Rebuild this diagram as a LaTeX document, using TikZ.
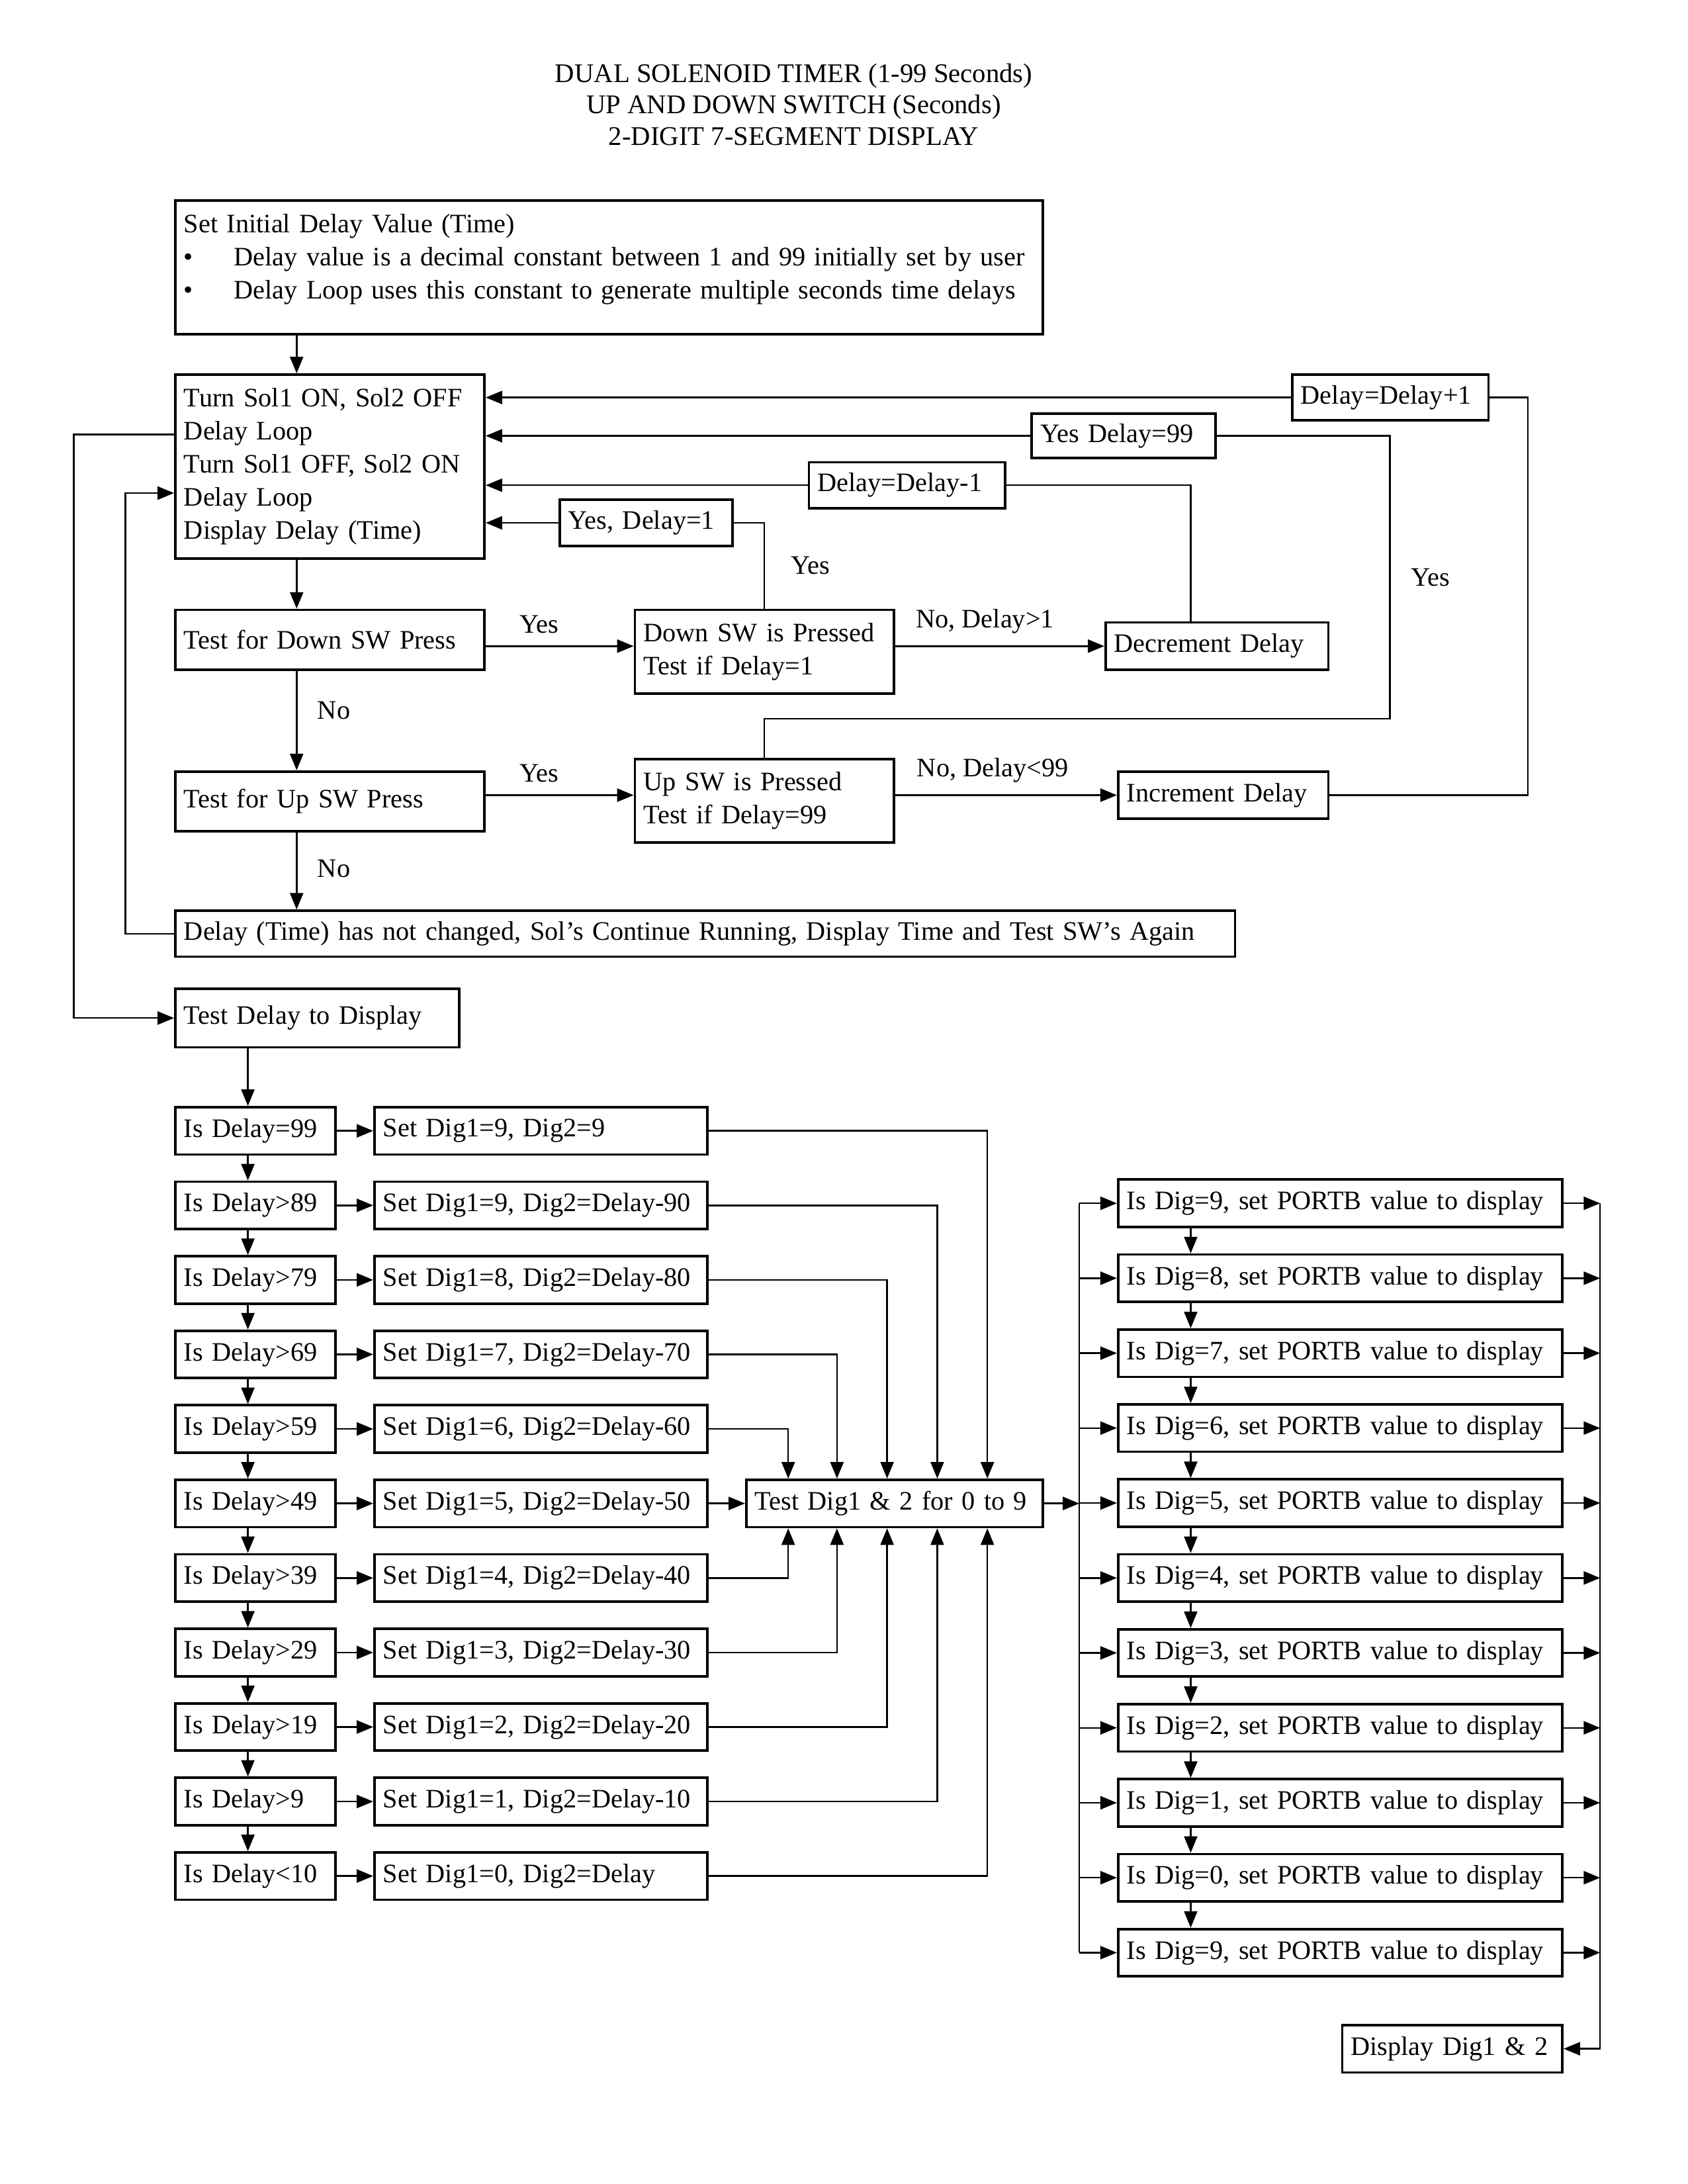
\documentclass[tikz,border=0pt]{standalone}
\usepackage{fontspec}
\setmainfont{Liberation Serif}
\usetikzlibrary{arrows.meta}
\begin{document}
\begin{tikzpicture}[x=0.017814cm,y=-0.017814cm,
    every node/.style={font=\fontsize{9.7}{12}\selectfont},
    blk/.style 2 args={draw,line width=0.9pt,anchor=north west,align=left,
      inner xsep=0.11cm,inner ysep=0pt,
      text width=#1*0.017814cm-0.22cm,minimum height=#2*0.017814cm,
      execute at begin node={\hyphenpenalty=10000\exhyphenpenalty=10000}},
    >={Triangle[length=6pt,width=4.8pt]},
    line width=0.6pt]
  \useasboundingbox (0,0) rectangle (1212,1568);
  % title
  \node[align=center,font=\fontsize{9.8}{11.4}\selectfont] (title) at (570,75)
    {DUAL SOLENOID TIMER (1-99 Seconds)\\UP AND DOWN SWITCH (Seconds)\\2-DIGIT 7-SEGMENT DISPLAY};
  % switch test part
  \node[blk={623}{96}] (init) at (125,143)
    {Set Initial Delay Value (Time)\\
     \makebox[0.64cm][l]{\textbullet}Delay value is a decimal constant between 1 and 99 initially set by user\\
     \makebox[0.64cm][l]{\textbullet}Delay Loop uses this constant to generate multiple seconds time delays\\[-4pt]
     \mbox{}};
  \node[blk={222}{132}] (main) at (125,268)
    {Turn Sol1 ON, Sol2 OFF\\Delay Loop\\Turn Sol1 OFF, Sol2 ON\\Delay Loop\\Display Delay (Time)};
  \node[blk={141}{33}] (dpone) at (927,268) {Delay=Delay+1};
  \node[blk={132}{32}] (yes99) at (740,296) {Yes Delay=99};
  \node[blk={141}{33}] (dmone) at (580,331) {Delay=Delay-1};
  \node[blk={124}{33}] (yes1) at (401,358) {Yes, Delay=1};
  \node[blk={222}{43}] (tdown) at (125,437) {Test for Down SW Press};
  \node[blk={186}{60}] (downsw) at (455,437) {Down SW is Pressed\\Test if Delay=1};
  \node[blk={160}{34}] (decr) at (793,446) {Decrement Delay};
  \node[blk={222}{43}] (tup) at (125,553) {Test for Up SW Press};
  \node[blk={186}{60}] (upsw) at (455,544) {Up SW is Pressed\\Test if Delay=99};
  \node[blk={151}{34}] (incr) at (802,553) {Increment Delay};
  \node[blk={761}{33}] (nochg) at (125,653)
    {Delay (Time) has not changed, Sol’s Continue Running, Display Time and Test SW’s Again};
  \node[blk={204}{42}] (tdisp) at (125,709) {Test Delay to Display};
  \coordinate (spine) at (213,0);
  \coordinate (lbus) at (90,0);
  \coordinate (fbus) at (53,0);
  \coordinate (mainin) at (125,354);
  \coordinate (mainout) at (125,312);
  \coordinate (rbus) at (1097,0);
  \coordinate (upturn) at (998,516);
  \coordinate (dcol) at (855,0);
  \draw[->] (init.south -| spine) -- (main.north -| spine);
  \draw[->] (main.south -| spine) -- (tdown.north -| spine);
  \draw[->] (tdown.south -| spine) -- node[pos=0.4,right=4pt] {No} (tup.north -| spine);
  \draw[->] (tup.south -| spine) -- node[pos=0.47,right=4pt] {No} (nochg.north -| spine);
  \draw[->] (tdown.east |- decr) -- node[pos=0.36,above=1pt] {Yes} (downsw.west |- decr);
  \draw[->] (downsw.east |- decr) -- node[pos=0.43,above=1pt] {No, Delay>1} (decr.west);
  \draw[->] (tup.east |- incr) -- node[pos=0.36,above=1pt] {Yes} (upsw.west |- incr);
  \draw[->] (upsw.east |- incr) -- node[pos=0.44,above=1pt] {No, Delay<99} (incr.west);
  \draw (downsw.north) |- node[pos=0.25,right=6pt] {Yes} (yes1.east);
  \draw (decr.north -| dcol) |- (dmone.east);
  \draw (upsw.north) |- (upturn) |- node[pos=0.25,right=4pt] {Yes} (yes99.east);
  \draw (incr.east) -- (incr.east -| rbus) |- (dpone.east);
  \draw[->] (dpone.west) -- (dpone.west -| main.east);
  \draw[->] (yes99.west) -- (yes99.west -| main.east);
  \draw[->] (dmone.west) -- (dmone.west -| main.east);
  \draw[->] (yes1.west) -- (yes1.west -| main.east);
  \draw[->] (nochg.west) -- (nochg.west -| lbus) |- (mainin);
  \draw[->] (mainout) -- (mainout -| fbus) |- (tdisp.west);
  % digit split part
  \node[blk={115}{34}] (r0) at (125,794) {Is Delay=99};
  \node[blk={115}{34}] (r1) at (125,847.5) {Is Delay>89};
  \node[blk={115}{34}] (r2) at (125,901) {Is Delay>79};
  \node[blk={115}{34}] (r3) at (125,954.5) {Is Delay>69};
  \node[blk={115}{34}] (r4) at (125,1008) {Is Delay>59};
  \node[blk={115}{34}] (r5) at (125,1061.5) {Is Delay>49};
  \node[blk={115}{34}] (r6) at (125,1115) {Is Delay>39};
  \node[blk={115}{34}] (r7) at (125,1168.5) {Is Delay>29};
  \node[blk={115}{34}] (r8) at (125,1222) {Is Delay>19};
  \node[blk={115}{34}] (r9) at (125,1275.5) {Is Delay>9};
  \node[blk={115}{34}] (r10) at (125,1329) {Is Delay<10};
  \node[blk={239}{34}] (s0) at (268,794) {Set Dig1=9, Dig2=9};
  \node[blk={239}{34}] (s1) at (268,847.5) {Set Dig1=9, Dig2=Delay-90};
  \node[blk={239}{34}] (s2) at (268,901) {Set Dig1=8, Dig2=Delay-80};
  \node[blk={239}{34}] (s3) at (268,954.5) {Set Dig1=7, Dig2=Delay-70};
  \node[blk={239}{34}] (s4) at (268,1008) {Set Dig1=6, Dig2=Delay-60};
  \node[blk={239}{34}] (s5) at (268,1061.5) {Set Dig1=5, Dig2=Delay-50};
  \node[blk={239}{34}] (s6) at (268,1115) {Set Dig1=4, Dig2=Delay-40};
  \node[blk={239}{34}] (s7) at (268,1168.5) {Set Dig1=3, Dig2=Delay-30};
  \node[blk={239}{34}] (s8) at (268,1222) {Set Dig1=2, Dig2=Delay-20};
  \node[blk={239}{34}] (s9) at (268,1275.5) {Set Dig1=1, Dig2=Delay-10};
  \node[blk={239}{34}] (s10) at (268,1329) {Set Dig1=0, Dig2=Delay};
  \node[blk={213}{34}] (tdig) at (535,1061.5) {Test Dig1 \& 2 for 0 to 9};
  \coordinate (dspine) at (178,0);
  \coordinate (k1) at (566,0);
  \coordinate (k2) at (601,0);
  \coordinate (k3) at (637,0);
  \coordinate (k4) at (673,0);
  \coordinate (k5) at (709,0);
  \draw[->] (tdisp.south -| dspine) -- (r0.north -| dspine);
  \draw[->] (r0.south -| dspine) -- (r1.north -| dspine);
  \draw[->] (r1.south -| dspine) -- (r2.north -| dspine);
  \draw[->] (r2.south -| dspine) -- (r3.north -| dspine);
  \draw[->] (r3.south -| dspine) -- (r4.north -| dspine);
  \draw[->] (r4.south -| dspine) -- (r5.north -| dspine);
  \draw[->] (r5.south -| dspine) -- (r6.north -| dspine);
  \draw[->] (r6.south -| dspine) -- (r7.north -| dspine);
  \draw[->] (r7.south -| dspine) -- (r8.north -| dspine);
  \draw[->] (r8.south -| dspine) -- (r9.north -| dspine);
  \draw[->] (r9.south -| dspine) -- (r10.north -| dspine);
  \draw[->] (r0.east) -- (s0.west);
  \draw[->] (r1.east) -- (s1.west);
  \draw[->] (r2.east) -- (s2.west);
  \draw[->] (r3.east) -- (s3.west);
  \draw[->] (r4.east) -- (s4.west);
  \draw[->] (r5.east) -- (s5.west);
  \draw[->] (r6.east) -- (s6.west);
  \draw[->] (r7.east) -- (s7.west);
  \draw[->] (r8.east) -- (s8.west);
  \draw[->] (r9.east) -- (s9.west);
  \draw[->] (r10.east) -- (s10.west);
  \draw[->] (s0.east) -| (k5 |- tdig.north);
  \draw[->] (s1.east) -| (k4 |- tdig.north);
  \draw[->] (s2.east) -| (k3 |- tdig.north);
  \draw[->] (s3.east) -| (k2 |- tdig.north);
  \draw[->] (s4.east) -| (k1 |- tdig.north);
  \draw[->] (s5.east) -- (tdig.west);
  \draw[->] (s6.east) -| (k1 |- tdig.south);
  \draw[->] (s7.east) -| (k2 |- tdig.south);
  \draw[->] (s8.east) -| (k3 |- tdig.south);
  \draw[->] (s9.east) -| (k4 |- tdig.south);
  \draw[->] (s10.east) -| (k5 |- tdig.south);
  % portb part
  \node[blk={319}{34}] (d0) at (802,846) {Is Dig=9, set PORTB value to display};
  \node[blk={319}{34}] (d1) at (802,899.8) {Is Dig=8, set PORTB value to display};
  \node[blk={319}{34}] (d2) at (802,953.6) {Is Dig=7, set PORTB value to display};
  \node[blk={319}{34}] (d3) at (802,1007.4) {Is Dig=6, set PORTB value to display};
  \node[blk={319}{34}] (d4) at (802,1061.2) {Is Dig=5, set PORTB value to display};
  \node[blk={319}{34}] (d5) at (802,1115) {Is Dig=4, set PORTB value to display};
  \node[blk={319}{34}] (d6) at (802,1168.8) {Is Dig=3, set PORTB value to display};
  \node[blk={319}{34}] (d7) at (802,1222.6) {Is Dig=2, set PORTB value to display};
  \node[blk={319}{34}] (d8) at (802,1276.4) {Is Dig=1, set PORTB value to display};
  \node[blk={319}{34}] (d9) at (802,1330.2) {Is Dig=0, set PORTB value to display};
  \node[blk={319}{34}] (d10) at (802,1384) {Is Dig=9, set PORTB value to display};
  \node[blk={158}{34}] (disp) at (963,1453) {Display Dig1 \& 2};
  \coordinate (dl) at (775,0);
  \coordinate (dr) at (1149,0);
  \coordinate (pcol) at (855,0);
  \draw[->] (tdig.east) -- (tdig.east -| dl);
  \draw (d0.west -| dl) -- (d10.west -| dl);
  \draw[->] (d0.west -| dl) -- (d0.west);
  \draw[->] (d1.west -| dl) -- (d1.west);
  \draw[->] (d2.west -| dl) -- (d2.west);
  \draw[->] (d3.west -| dl) -- (d3.west);
  \draw[->] (d4.west -| dl) -- (d4.west);
  \draw[->] (d5.west -| dl) -- (d5.west);
  \draw[->] (d6.west -| dl) -- (d6.west);
  \draw[->] (d7.west -| dl) -- (d7.west);
  \draw[->] (d8.west -| dl) -- (d8.west);
  \draw[->] (d9.west -| dl) -- (d9.west);
  \draw[->] (d10.west -| dl) -- (d10.west);
  \draw[->] (d0.south -| pcol) -- (d1.north -| pcol);
  \draw[->] (d1.south -| pcol) -- (d2.north -| pcol);
  \draw[->] (d2.south -| pcol) -- (d3.north -| pcol);
  \draw[->] (d3.south -| pcol) -- (d4.north -| pcol);
  \draw[->] (d4.south -| pcol) -- (d5.north -| pcol);
  \draw[->] (d5.south -| pcol) -- (d6.north -| pcol);
  \draw[->] (d6.south -| pcol) -- (d7.north -| pcol);
  \draw[->] (d7.south -| pcol) -- (d8.north -| pcol);
  \draw[->] (d8.south -| pcol) -- (d9.north -| pcol);
  \draw[->] (d9.south -| pcol) -- (d10.north -| pcol);
  \draw[->] (d0.east) -- (d0.east -| dr);
  \draw[->] (d1.east) -- (d1.east -| dr);
  \draw[->] (d2.east) -- (d2.east -| dr);
  \draw[->] (d3.east) -- (d3.east -| dr);
  \draw[->] (d4.east) -- (d4.east -| dr);
  \draw[->] (d5.east) -- (d5.east -| dr);
  \draw[->] (d6.east) -- (d6.east -| dr);
  \draw[->] (d7.east) -- (d7.east -| dr);
  \draw[->] (d8.east) -- (d8.east -| dr);
  \draw[->] (d9.east) -- (d9.east -| dr);
  \draw[->] (d10.east) -- (d10.east -| dr);
  \draw[->] (d0.east -| dr) -- (disp.east -| dr) -- (disp.east);
\end{tikzpicture}
\end{document}
